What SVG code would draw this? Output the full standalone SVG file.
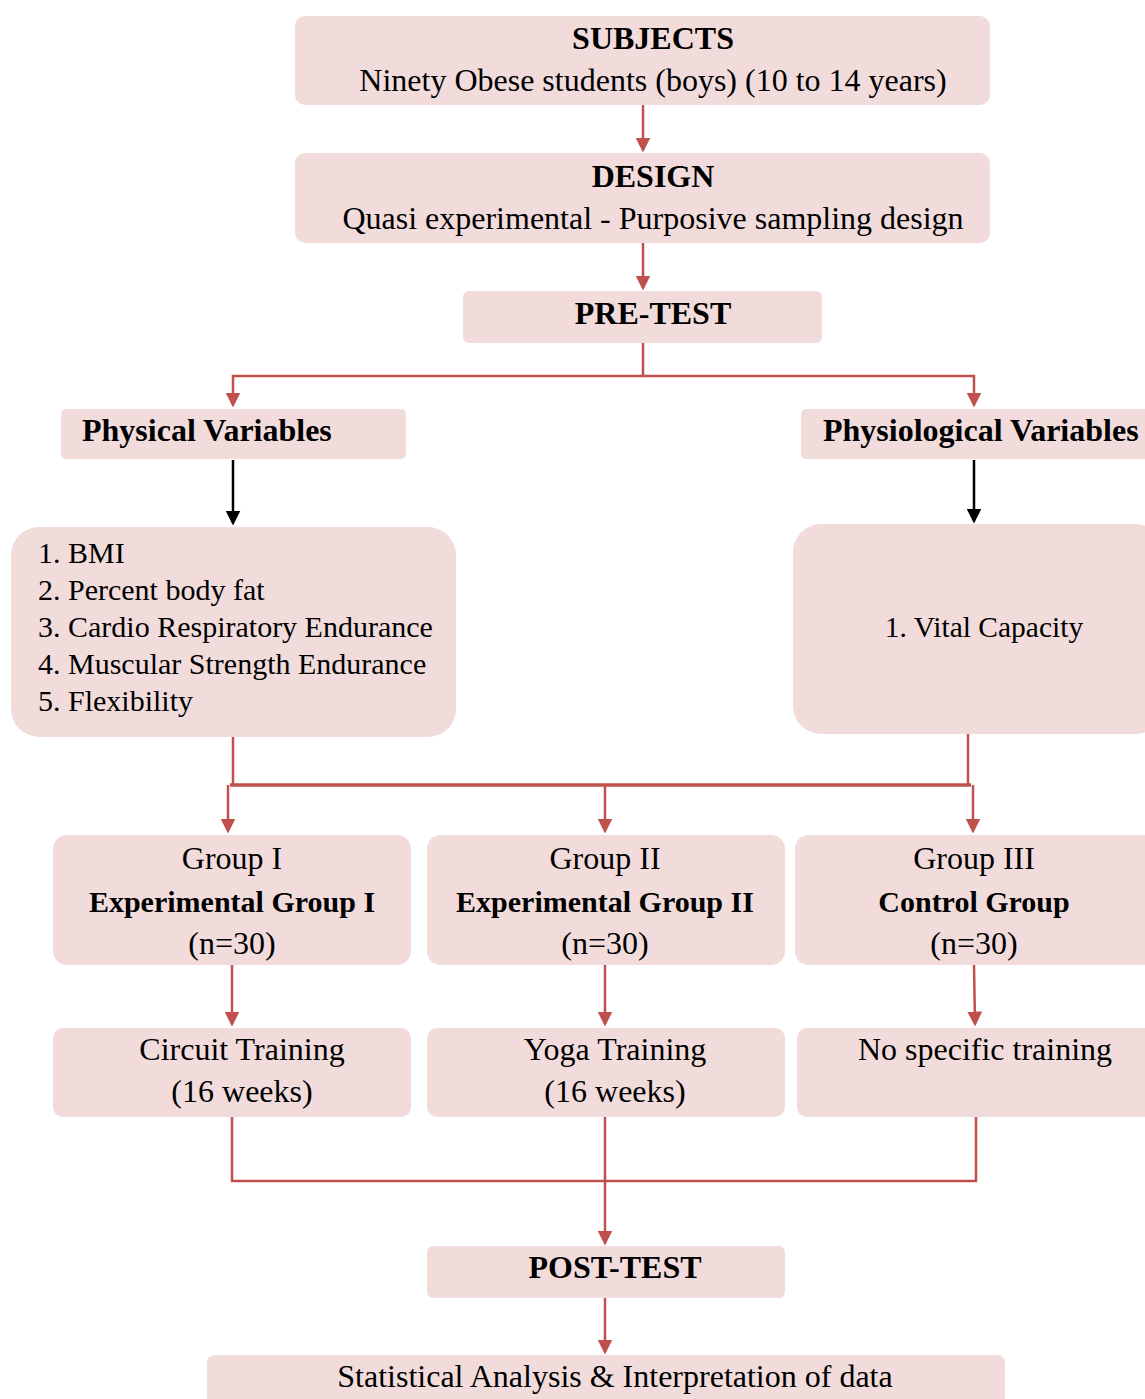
<svg xmlns="http://www.w3.org/2000/svg" width="1145" height="1399" viewBox="0 0 1145 1399">
<defs>
<marker id="ar" markerWidth="6" markerHeight="6" refX="5" refY="3" orient="auto" markerUnits="strokeWidth"><path d="M0,0 L6,3 L0,6 z" fill="#c0504d"/></marker>
<marker id="ab" markerWidth="6" markerHeight="6" refX="5" refY="3" orient="auto" markerUnits="strokeWidth"><path d="M0,0 L6,3 L0,6 z" fill="#000"/></marker>
<style>
.box{fill:#f2dcdb;}
.t{font-family:"Liberation Serif","Times New Roman",serif;font-size:32px;fill:#000;}
.b{font-weight:bold;}
.c{text-anchor:middle;}
.g{font-size:30px;}
.l{font-size:30px;}
.r{stroke:#c0504d;stroke-width:2.5;fill:none;}
.k{stroke:#000;stroke-width:2.5;fill:none;}
</style>
</defs>
<rect width="1145" height="1399" fill="#fff"/>
<g id="connectors">
<path class="r" d="M643,105 V150" marker-end="url(#ar)"/>
<path class="r" d="M643,243 V288" marker-end="url(#ar)"/>
<path class="r" d="M643,343 V376 H233 V405" marker-end="url(#ar)"/>
<path class="r" d="M643,376 H974 V405" marker-end="url(#ar)"/>
<path class="k" d="M233,460 V523" marker-end="url(#ab)"/>
<path class="k" d="M974,460 V521" marker-end="url(#ab)"/>
<path class="r" d="M233,737 V785"/>
<path class="r" d="M968,734 V785"/>
<path class="r" style="stroke-width:3.5" d="M230,785 H971"/>
<path class="r" d="M228,785 V831" marker-end="url(#ar)"/>
<path class="r" d="M605,785 V831" marker-end="url(#ar)"/>
<path class="r" d="M973,785 V831" marker-end="url(#ar)"/>
<path class="r" d="M232,965 V1024" marker-end="url(#ar)"/>
<path class="r" d="M605,965 V1024" marker-end="url(#ar)"/>
<path class="r" d="M974,965 L975,1024" marker-end="url(#ar)"/>
<path class="r" d="M232,1117 V1181 H976 V1117"/>
<path class="r" d="M605,1117 V1243" marker-end="url(#ar)"/>
<path class="r" d="M605,1298 V1352" marker-end="url(#ar)"/>
</g>
<g id="subjects">
<rect class="box" x="295" y="16" width="695" height="89" rx="10"/>
<text class="t b c" x="653" y="49">SUBJECTS</text>
<text class="t c" x="653" y="91">Ninety Obese students (boys) (10 to 14 years)</text>
</g>
<g id="design">
<rect class="box" x="295" y="153" width="695" height="90" rx="10"/>
<text class="t b c" x="653" y="187">DESIGN</text>
<text class="t c" x="653" y="229">Quasi experimental - Purposive sampling design</text>
</g>
<g id="pretest">
<rect class="box" x="463" y="291" width="359" height="52" rx="6"/>
<text class="t b c" x="653" y="324">PRE-TEST</text>
</g>
<g id="physical">
<rect class="box" x="61" y="409" width="345" height="50" rx="5"/>
<text class="t b" x="82" y="441">Physical Variables</text>
</g>
<g id="physiological">
<rect class="box" x="801" y="409" width="350" height="50" rx="5"/>
<text class="t b" x="823" y="441">Physiological Variables</text>
</g>
<g id="physical-list">
<rect class="box" x="11" y="527" width="445" height="210" rx="28"/>
<text class="t l" x="38" y="563">1. BMI</text>
<text class="t l" x="38" y="600">2. Percent body fat</text>
<text class="t l" x="38" y="637">3. Cardio Respiratory Endurance</text>
<text class="t l" x="38" y="674">4. Muscular Strength Endurance</text>
<text class="t l" x="38" y="711">5. Flexibility</text>
</g>
<g id="physiological-list">
<rect class="box" x="793" y="524" width="370" height="210" rx="28"/>
<text class="t c" x="984" y="637" style="font-size:29.5px">1. Vital Capacity</text>
</g>
<g id="group1">
<rect class="box" x="53" y="835" width="358" height="130" rx="14"/>
<text class="t c" x="232" y="869">Group I</text>
<text class="t b c g" x="232" y="912">Experimental Group I</text>
<text class="t c" x="232" y="954">(n=30)</text>
</g>
<g id="group2">
<rect class="box" x="427" y="835" width="358" height="130" rx="14"/>
<text class="t c" x="605" y="869">Group II</text>
<text class="t b c g" x="605" y="912">Experimental Group II</text>
<text class="t c" x="605" y="954">(n=30)</text>
</g>
<g id="group3">
<rect class="box" x="795" y="835" width="365" height="130" rx="14"/>
<text class="t c" x="974" y="869">Group III</text>
<text class="t b c g" x="974" y="912">Control Group</text>
<text class="t c" x="974" y="954">(n=30)</text>
</g>
<g id="circuit">
<rect class="box" x="53" y="1028" width="358" height="89" rx="10"/>
<text class="t c" x="242" y="1060">Circuit Training</text>
<text class="t c" x="242" y="1102">(16 weeks)</text>
</g>
<g id="yoga">
<rect class="box" x="427" y="1028" width="358" height="89" rx="10"/>
<text class="t c" x="615" y="1060">Yoga Training</text>
<text class="t c" x="615" y="1102">(16 weeks)</text>
</g>
<g id="notraining">
<rect class="box" x="797" y="1028" width="365" height="89" rx="10"/>
<text class="t c" x="985" y="1060">No specific training</text>
</g>
<g id="posttest">
<rect class="box" x="427" y="1246" width="358" height="52" rx="6"/>
<text class="t b c" x="615" y="1278">POST-TEST</text>
</g>
<g id="analysis">
<rect class="box" x="207" y="1355" width="798" height="60" rx="8"/>
<text class="t c" x="615" y="1387">Statistical Analysis &amp; Interpretation of data</text>
</g>
</svg>
